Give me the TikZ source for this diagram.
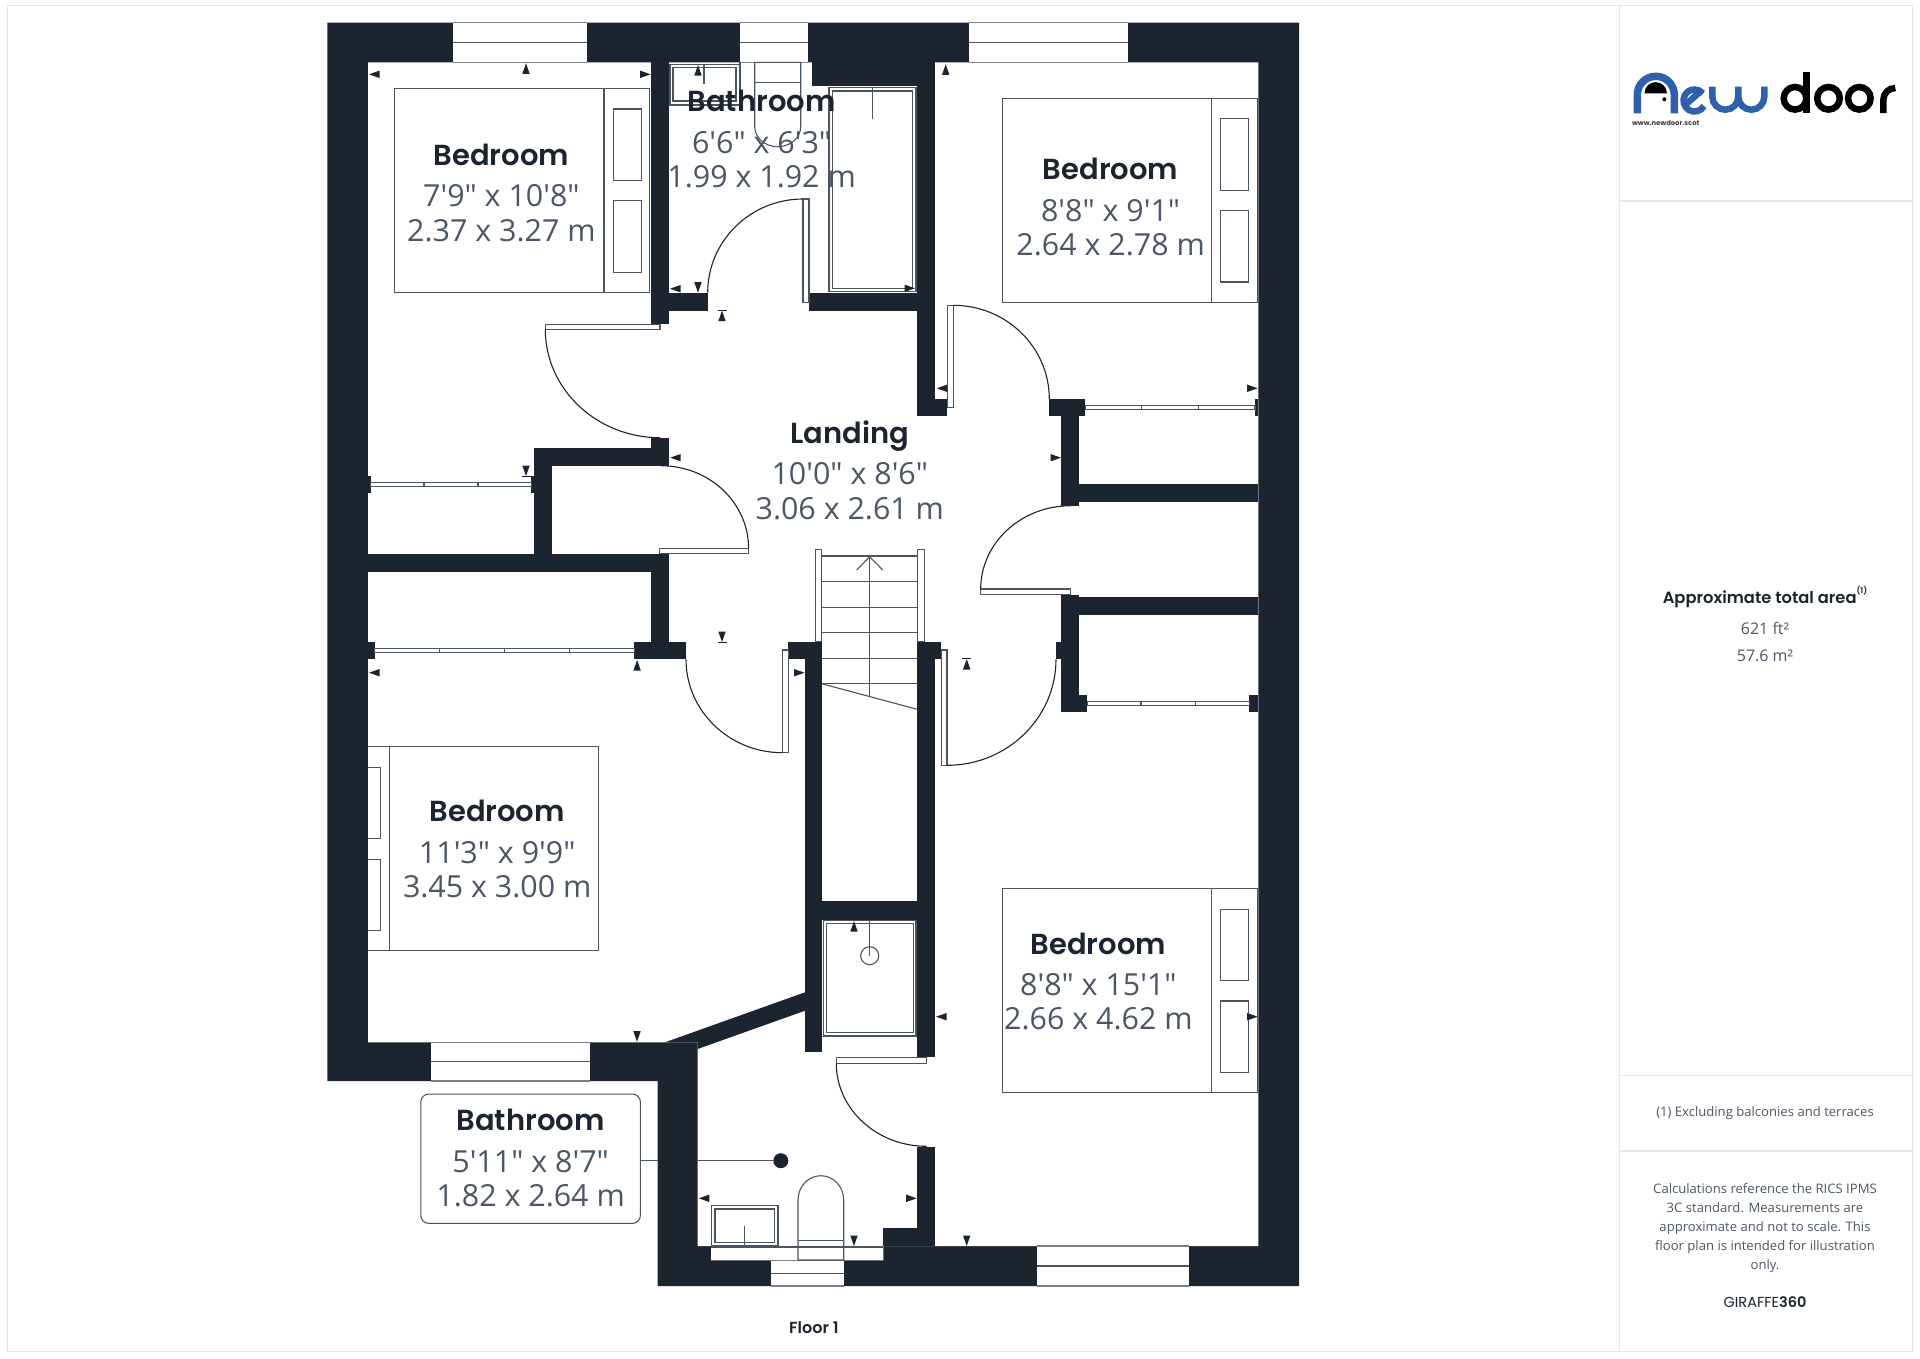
\documentclass[tikz,border=0pt]{standalone}
\usepackage{fontspec}
\usepackage{xcolor}
\usetikzlibrary{positioning}
\newfontfamily\dimfont{Open Sans}
\newfontfamily\titlefont{Poppins SemiBold}
\newfontfamily\plainfont{Poppins}
\definecolor{fpwall}{RGB}{27,36,47}
\definecolor{fpline}{RGB}{74,85,96}
\definecolor{fpglass}{RGB}{120,128,137}
\definecolor{fpdim}{RGB}{75,87,102}
\definecolor{fpframe}{RGB}{228,230,232}
\definecolor{fpblue}{RGB}{46,97,170}
\tikzstyle{wall} = [fill=fpwall]
\tikzstyle{thin} = [line width=1.1pt,color=fpline]
\tikzstyle{swing} = [line width=1.1pt,color=fpwall]
\tikzstyle{leaf} = [line width=1.1pt,draw=fpline,fill=white]
\tikzstyle{glass} = [line width=1.1pt,color=fpglass]
\tikzstyle{frameline} = [line width=1.4pt,color=fpframe]
\tikzstyle{roomtitle} = [inner sep=0pt,anchor=base,text=fpwall,font=\titlefont\fontsize{29}{34}\selectfont]
\tikzstyle{roomdim} = [inner sep=0pt,text=fpdim,font=\dimfont\fontsize{30.4}{34}\selectfont]
\tikzstyle{side} = [inner sep=0pt,align=center,text=fpdim,font=\dimfont\fontsize{13.1}{19.2}\selectfont]
\newcommand{\roomlabel}[6]{%
  \node[roomtitle] (#1) at (#2,#3+11.3) {#4};
  \node[roomdim] (#1ft) at (#2,#3+41.8) {#5};
  \node[roomdim] (#1m) at (#2,#3+76) {#6};
}
\begin{document}
\begin{tikzpicture}[x=1pt,y=-1pt]
    \useasboundingbox (0,0) rectangle (1920,1358);
    \fill[white] (0,0) rectangle (1920,1358);

    % Sheet frame
    \draw[frameline] (7.3,5.7) rectangle (1912.3,1351.7);
    \draw[frameline] (1619.3,5.7) -- (1619.3,1351.7);
    \foreach \y in {201,1075.3,1151}
        \draw[frameline] (1619.3,\y) -- (1912.3,\y);

    % Outer shell and floor
    \fill[wall] (327.3,22.7) -- (1299,22.7) -- (1299,1286) -- (657.6,1286) -- (657.6,1081) -- (327.3,1081) -- cycle;
    \fill[white] (368,62.3) -- (1258.3,62.3) -- (1258.3,1246) -- (883.3,1246) -- (883.3,1260.3) -- (711,1260.3) -- (711,1246) -- (697.6,1246) -- (697.6,1042.3) -- (368,1042.3) -- cycle;

    % Inner walls
    \foreach \a/\b/\c/\d in {650.6/62.3/669/324.3, 650.6/292.7/707.7/310.7, 809/292.7/917.3/310.7,
        917.3/62.3/935/416, 917.3/399/947.3/416, 812/62.3/917.3/86, 650.6/438.3/669/465.7,
        534.3/448.3/669/465.7, 534.3/448.3/551.8/571.7, 368/554/669/571.7, 650.6/554/669/659.3,
        634.3/641.7/686/659.3, 368/641.7/374.7/659.3, 368/476/370.6/493.3, 531.4/476/534.3/493.3,
        788.2/641.7/822/659.3, 805/659.3/822/1051.7, 917.3/641.7/941.3/659.3, 917.3/659.3/935/1057.3,
        822/901.3/917.3/920.3, 1049.3/399/1085.3/416, 1255/399/1258.3/416, 1061.3/399/1079/505.7,
        1079/484.3/1258.3/502, 1061.3/595/1079/712.3, 1079/597.3/1258.3/615, 1061.3/695/1087.3/712.3,
        1056/641.7/1061.3/659.3, 1249.3/695/1258.3/712.3, 917/1146.7/935/1246, 883.3/1228.3/935/1246}
        \fill[wall] (\a,\b) rectangle (\c,\d);
    \fill[wall] (665,1042.3) -- (805,992.3) -- (805,1010.7) -- (697.6,1049) -- (697.6,1042.3) -- cycle;

    % Windows
    \foreach \a/\b/\c/\d in {452.7/22.7/587.3/62.3, 740.4/22.7/807.8/62.3, 969.3/22.7/1128/62.3,
        430.6/1042.3/589.8/1081, 770.6/1260.3/843.7/1286, 1037/1246/1188.7/1286}{
        \fill[white] (\a,\b) rectangle (\c,\d);
        \draw[glass] (\a,\b) -- (\c,\b);
        \draw[glass] (\a,\d) -- (\c,\d);
        \draw[thin] (\a,{(\b+\d)/2}) -- (\c,{(\b+\d)/2});
    }

    % Sliding wardrobe doors
    \foreach \a/\b/\c/\d in {370.6/482.3/531.4/486.7, 374.7/648.3/634.3/652.3, 1085.3/405.7/1255/409.3, 1087.3/701.7/1249.3/705.7}
        \draw[leaf] (\a,\b) rectangle (\c,\d);
    \foreach \x/\y/\Y in {424/482.3/486.7, 478/482.3/486.7, 439.6/648.3/652.3, 504.5/648.3/652.3, 569.4/648.3/652.3,
        1141.7/405.7/409.3, 1198.3/405.7/409.3, 1141/701.7/705.7, 1195.3/701.7/705.7}
        \draw[thin] (\x,\y) -- (\x,\Y);

    % Beds
    \foreach \a/\b/\c/\d/\e in {394.7/88.7/649.8/292.7/604, 1002.3/98.3/1257.7/302.3/1211.7, 1002.3/888.7/1257.7/1092.7/1211.7}{
        \draw[thin] (\a,\b) rectangle (\c,\d);
        \draw[thin] (\e,\b) -- (\e,\d);
    }
    \draw[thin] (368,746.7) -- (598.8,746.7) -- (598.8,950.7) -- (368,950.7);
    \draw[thin] (389.4,746.7) -- (389.4,950.7);
    \foreach \a/\b/\c/\d in {613.5/109/641.6/180.7, 613.5/200.7/641.6/272.3, 1220.7/118.7/1248.7/190.3, 1220.7/210.3/1248.7/282,
        1220.7/909.3/1248.7/980.3, 1220.7/1001/1248.7/1072.3}
        \draw[thin] (\a,\b) rectangle (\c,\d);
    \draw[thin] (368,767.3) -- (380.4,767.3) -- (380.4,838.3) -- (368,838.3);
    \draw[thin] (368,859.3) -- (380.4,859.3) -- (380.4,930.7) -- (368,930.7);

    % Showers and bath
    \draw[thin] (829,87.7) rectangle (916,291.7);
    \draw[thin] (832.7,91) rectangle (912.7,288.3);
    \draw[thin] (872.7,87.7) -- (872.7,119);
    \draw[thin] (823.3,920.3) rectangle (916,1035.3);
    \draw[thin] (826.3,923.7) rectangle (913.3,1032.3);
    \draw[thin] (869.7,920.3) -- (869.7,955.7);
    \draw[thin] (869.7,955.7) circle (9);
    \draw[thin] (822,1036.7) -- (917.3,1036.7);

    % Basins
    \draw[thin] (670,64.3) rectangle (739.3,104.3);
    \draw[thin] (673,67.3) rectangle (736,101);
    \draw[thin] (704,64.3) -- (704,84);
    \draw[thin] (669,105.7) -- (740,105.7);
    \draw[thin] (740,62.3) -- (740,105.7);
    \draw[thin] (711.4,1205.3) rectangle (778,1246);
    \draw[thin] (715,1209) rectangle (774.7,1242.3);
    \draw[thin] (744.5,1225.7) -- (744.5,1246);
    \draw[thin] (711,1247) -- (883.3,1247);

    % Toilets
    \draw[thin] (754.7,62.3) -- (800.7,62.3) -- (800.7,126.7) arc[start angle=0,end angle=180,x radius=23,y radius=20] -- cycle;
    \draw[thin] (754.7,82.3) -- (800.7,82.3);
    \draw[thin] (798,1260) -- (843.7,1260) -- (843.7,1200) arc[start angle=360,end angle=180,x radius=22.85,y radius=24.3] -- cycle;
    \draw[thin] (798,1240.3) -- (843.7,1240.3);

    % Door leaves
    \foreach \a/\b/\c/\d in {545.3/324.3/660/329.3, 803/199/809/302.3, 659.6/548.3/748.6/553.3, 947.3/305.3/953.3/407.7,
        980.7/589/1070.7/594.3, 782.4/650/788.2/752.7, 941.3/650/947/765.3, 836.3/1057.3/926.7/1063.3}
        \draw[leaf] (\a,\b) rectangle (\c,\d);

    % Door swings
    \draw[swing] (545.3,329.3) arc[start angle=180,end angle=90,x radius=114.7,y radius=108.4];
    \draw[swing] (803,199) arc[start angle=270,end angle=180,x radius=95.3,y radius=93.7];
    \draw[swing] (660.8,465.7) arc[start angle=270,end angle=360,x radius=87.8,y radius=82.6];
    \draw[swing] (953.3,305.3) arc[start angle=270,end angle=360,x radius=96,y radius=93.7];
    \draw[swing] (1070.7,505.7) arc[start angle=270,end angle=180,x radius=90,y radius=83.3];
    \draw[swing] (686,659.3) arc[start angle=180,end angle=90,x radius=96.4,y radius=93.4];
    \draw[swing] (1056,659.3) arc[start angle=0,end angle=90,x radius=109,y radius=106];
    \draw[swing] (836.3,1063.3) arc[start angle=180,end angle=90,x radius=90.4,y radius=83];

    % Stairs
    \foreach \a/\c in {815.3/821.7, 917.7/924.3}
        \draw[leaf] (\a,549.3) rectangle (\c,641.7);
    \foreach \y in {556,581.7,607.3,632.7,658.3,683.7}
        \draw[thin] (821.7,\y) -- (917.3,\y);
    \draw[thin] (869.7,556) -- (869.7,696);
    \draw[thin] (856.7,570) -- (869.7,556.7) -- (882.7,570);
    \draw[thin] (821.7,683.7) -- (917.3,709.3);

    % Measure marks
    \foreach \x/\y in {526/63.3, 698/65, 722/310.7, 945.7/64.3, 637.1/660, 966.7/659, 854/921}
        \fill[wall] (\x,\y) -- ++(-3.7,10.5) -- ++(7.4,0) -- cycle;
    \foreach \x/\y in {698/292.7, 526/476, 722/642, 637/1041.7, 854/1246, 966.7/1246}
        \fill[wall] (\x,\y) -- ++(-3.7,-10.5) -- ++(7.4,0) -- cycle;
    \foreach \x/\y in {369/74.3, 670/288.7, 936.7/388.3, 670.2/457.7, 369/672.7, 936/1016.7, 698.8/1198.3}
        \fill[wall] (\x,\y) -- ++(10.5,-3.7) -- ++(0,7.4) -- cycle;
    \foreach \x/\y in {650.6/74.3, 915/288.3, 1257.7/388.3, 1061/457.7, 804.5/672.7, 1257.7/1016.7, 916.7/1198.3}
        \fill[wall] (\x,\y) -- ++(-10.5,-3.7) -- ++(0,7.4) -- cycle;
    \foreach \x/\y in {722/310.7, 526/476.3, 722/642.3, 966.7/658.7}
        \draw[line width=0.9pt,fpwall] (\x-4.5,\y) -- (\x+4.5,\y);

    % Room labels
    \roomlabel{bedroomA}{501.4}{154.3}{Bedroom}{7'9" x 10'8"}{2.37 x 3.27 m}
    \roomlabel{bathroomA}{761.6}{100.4}{Bathroom}{6'6" x 6'3"}{1.99 x 1.92 m}
    \roomlabel{bedroomB}{1110.6}{168.6}{Bedroom}{8'8" x 9'1"}{2.64 x 2.78 m}
    \roomlabel{landing}{849.8}{432.3}{Landing}{10'0" x 8'6"}{3.06 x 2.61 m}
    \roomlabel{bedroomC}{497.2}{810.6}{Bedroom}{11'3" x 9'9"}{3.45 x 3.00 m}
    \roomlabel{bedroomD}{1098.4}{942.9}{Bedroom}{8'8" x 15'1"}{2.66 x 4.62 m}

    % Bathroom call-out
    \node[draw=fpline,line width=1.1pt,fill=white,rounded corners=8pt,minimum width=219.6pt,minimum height=129.3pt,inner sep=0pt] (bathbox) at (530.6,1158.7) {};
    \node[circle,fill=fpwall,minimum size=15pt,inner sep=0pt] (bathdot) at (780.8,1160.7) {};
    \draw[thin] (bathbox.east |- bathdot) -- (657.6,1160.7);
    \draw[thin] (697.6,1160.7) -- (bathdot);
    \roomlabel{bathroomB}{530.6}{1119.5}{Bathroom}{5'11" x 8'7"}{1.82 x 2.64 m}
    \node[inner sep=0pt,text=fpwall,font=\titlefont\fontsize{16}{18}\selectfont] (floorname) at (813.9,1327.5) {Floor 1};

    % Logo
    \draw[line width=7.5pt,fpblue] (1637.3,113.3) -- (1637.3,94.8) arc[start angle=180,end angle=360,radius=18.5] -- (1674.3,113.3);
    \fill[black] (1644.5,93.3) arc[start angle=180,end angle=360,radius=11.2] -- cycle;
    \fill[black] (1664.3,99.3) circle (2);
    \draw[line width=6.5pt,fpblue] (1704,106) arc[start angle=30,end angle=320,radius=11];
    \draw[line width=6.5pt,fpblue] (1684,106) -- (1702,90);
    \draw[line width=6.5pt,fpblue] (1712.3,86.7) -- (1712.3,96.7) arc[start angle=180,end angle=0,radius=13] -- (1738.3,86.7) -- (1738.3,96.7) arc[start angle=180,end angle=0,radius=13] -- (1764.3,86.7);
    \draw[line width=6.5pt] (1795,98.3) circle (11.3);
    \draw[line width=6.5pt] (1806.3,71.7) -- (1806.3,113);
    \draw[line width=6.5pt] (1828.5,98.3) circle (11.3);
    \draw[line width=6.5pt] (1859.3,98.3) circle (11.3);
    \draw[line width=6.5pt] (1883.3,113) -- (1883.3,100) arc[start angle=180,end angle=270,radius=12];
    \node[inner sep=0pt,text=black!75,font=\plainfont\bfseries\fontsize{6.8}{8}\selectfont] (weburl) at (1665.7,123.3) {www.newdoor.scot};

    % Side panel
    \node[inner sep=0pt,text=fpwall,font=\titlefont\fontsize{16.3}{20}\selectfont] (areatitle) at (1765,597) {Approximate total area\raisebox{1.2ex}{\fontsize{8}{9}\selectfont(1)}};
    \node[inner sep=0pt,text=fpdim,font=\dimfont\fontsize{16}{20}\selectfont] (areaft) at (1765,628.7) {621 ft²};
    \node[inner sep=0pt,text=fpdim,font=\dimfont\fontsize{16}{20}\selectfont] (aream) at (1765,656) {57.6 m²};
    \node[side] (excluding) at (1765,1113.5) {(1) Excluding balconies and terraces};
    \node[side] (disclaimer) at (1765,1228) {Calculations reference the RICS IPMS\\3C standard. Measurements are\\approximate and not to scale. This\\floor plan is intended for illustration\\only.};
    \node[inner sep=0pt,text=fpwall,font=\plainfont\fontsize{14.5}{18}\selectfont] (brand) at (1765,1302.5) {GIRAFFE{\titlefont 360}};
\end{tikzpicture}
\end{document}
